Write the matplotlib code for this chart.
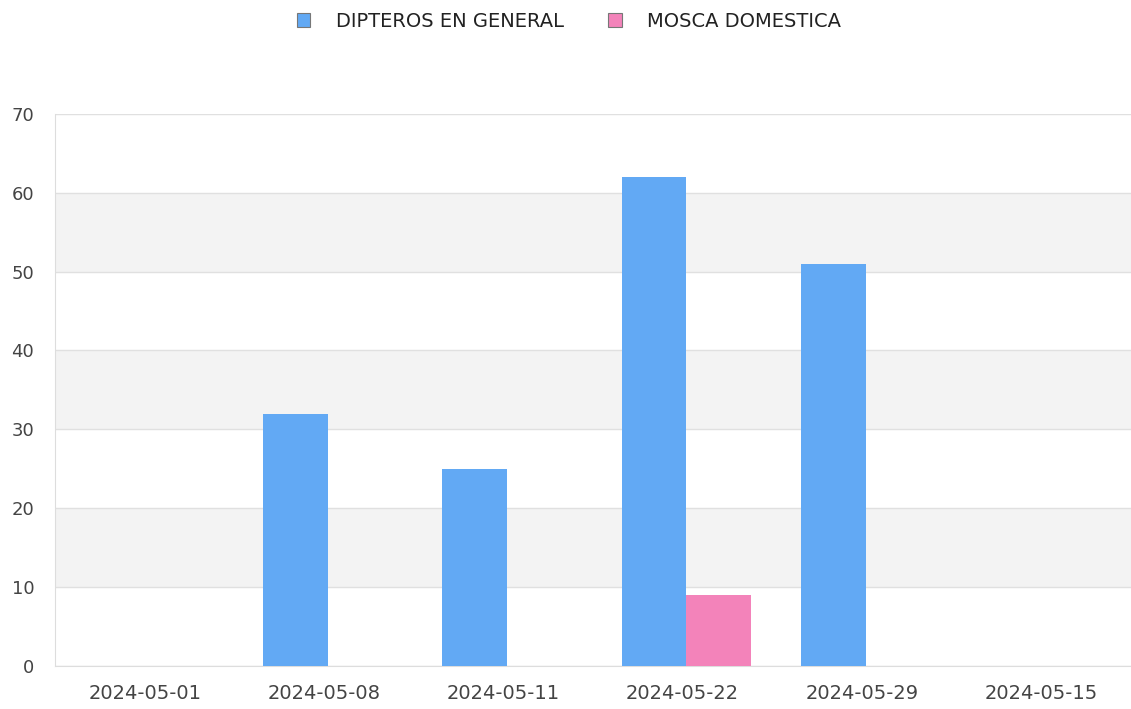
import matplotlib.pyplot as plt
import numpy as np

plt.rcParams['font.family'] = ['DejaVu Sans']

fechas = ["2024-05-01", "2024-05-08", "2024-05-11", "2024-05-22", "2024-05-29", "2024-05-15"]
dipteros = [0, 32, 25, 62, 51, 0]
mosca = [0, 0, 0, 9, 0, 0]
series = ["DIPTEROS EN GENERAL", "MOSCA DOMESTICA"]
colores = ["#62a9f4", "#f383ba"]

fig = plt.figure(figsize=(11.31, 7.09), dpi=100)
ax = fig.add_axes([0.0486, 0.0607, 0.9514, 0.7787])

x = np.arange(len(fechas))
w = 0.36
ax.bar(x - w / 2 + 0.02, dipteros, w, color=colores[0], label=series[0], zorder=3)
ax.bar(x + w / 2 + 0.02, mosca, w, color=colores[1], label=series[1], zorder=3)

# bandas alternas
for y0 in range(10, 70, 20):
    ax.axhspan(y0, y0 + 10, color="#f3f3f3", zorder=0, lw=0)
for y0 in range(0, 80, 10):
    ax.axhline(y0, color="#e0e0e0", lw=1, zorder=1)

ax.set_xlim(-0.5, len(fechas) - 0.5)
ax.set_ylim(0, 70)
ax.set_yticks(range(0, 80, 10))
ax.set_xticks(x)
ax.set_xticklabels(fechas)
ax.tick_params(length=0, colors="#444444")
ax.tick_params(axis="y", labelsize=13, pad=15)
ax.tick_params(axis="x", labelsize=14, pad=13)
for s in ["top", "right"]:
    ax.spines[s].set_visible(False)
ax.spines["left"].set_color("#dddddd")
ax.spines["bottom"].set_color("#dddddd")

handles = [plt.Rectangle((0, 0), 1, 1, facecolor=c, edgecolor="#777777", lw=0.8) for c in colores]
leg = fig.legend(handles, series, loc="upper center", bbox_to_anchor=(0.503, 1.008), ncol=2,
                 frameon=False, fontsize=14, handlelength=0.7, handleheight=0.7,
                 columnspacing=2.3, handletextpad=1.3)
for t in leg.get_texts():
    t.set_color("#222222")

fig.savefig("out.png", dpi=100)
